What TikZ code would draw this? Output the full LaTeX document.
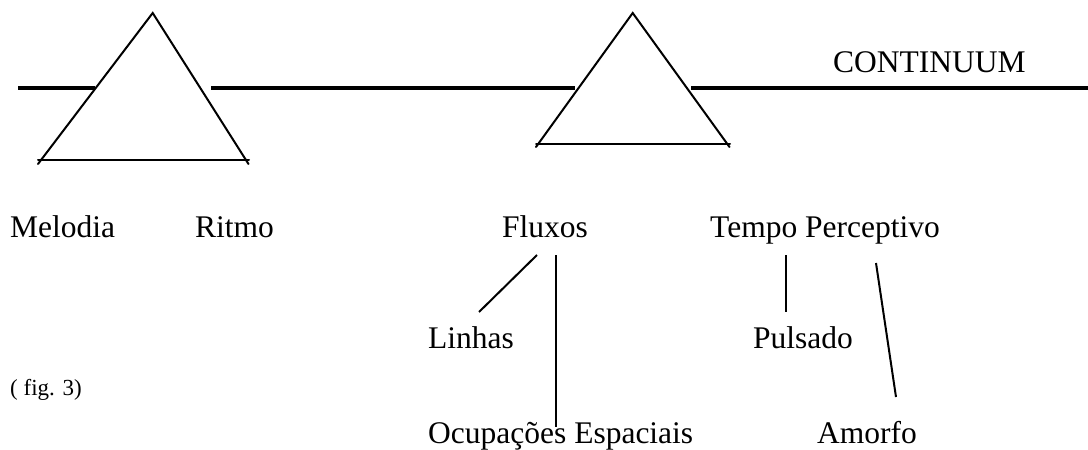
\documentclass[tikz,border=0pt]{standalone}
\usepackage{fontspec}
\setmainfont{Liberation Serif}
\usepackage{tikz}

\tikzset{
  lbl/.style={font=\fontsize{31.5}{38}\selectfont, inner sep=0pt, anchor=base west, text height=21pt, text depth=7pt},
  tri/.style={line width=2pt, line cap=round},
  conn/.style={line width=2pt},
}

\begin{document}
\begin{tikzpicture}[x=1pt,y=-1pt]
  \useasboundingbox (0,0) rectangle (1088,450);

  % Continuum line
  \draw[line width=4.5pt] (18,88) -- (95,88);
  \draw[line width=4.5pt] (211,88) -- (575,88);
  \draw[line width=4.5pt] (691,88) -- (1088,88);
  \node[lbl] (cont) at (833,72) {CONTINUUM};

  % Triangles
  \draw[tri] (38,164) -- (152.7,13) -- (248.5,164);
  \draw[tri] (38,160) -- (249,160);
  \draw[tri] (536,147) -- (632.7,13) -- (729.5,147);
  \draw[tri] (536,144) -- (730,144);

  % Labels
  \node[lbl] (mel) at (10,237) {Melodia};
  \node[lbl] (rit) at (195,237) {Ritmo};
  \node[lbl] (flx) at (502,237) {Fluxos};
  \node[lbl] (tmp) at (710,237) {Tempo Perceptivo};
  \node[lbl] (lin) at (428,348) {Linhas};
  \node[lbl] (pul) at (753,348) {Pulsado};
  \node[lbl] (ocu) at (428,443) {Ocupações Espaciais};
  \node[lbl] (amo) at (817,443) {Amorfo};
  \node[lbl, font=\fontsize{23}{28}\selectfont] (fig) at (10,395) {( fig. 3)};

  % Branches
  \draw[conn] ([xshift=35pt,yshift=-18pt]flx.base west) -- ([xshift=51pt,yshift=36pt]lin.base west);
  \draw[conn] ([xshift=54pt,yshift=-18pt]flx.base west) -- ([xshift=128pt,yshift=16pt]ocu.base west);
  \draw[conn] ([xshift=76pt,yshift=-18pt]tmp.base west) -- ([xshift=33pt,yshift=36pt]pul.base west);
  \draw[conn] ([xshift=166pt,yshift=-26pt]tmp.base west) -- ([xshift=79pt,yshift=46pt]amo.base west);
\end{tikzpicture}
\end{document}
